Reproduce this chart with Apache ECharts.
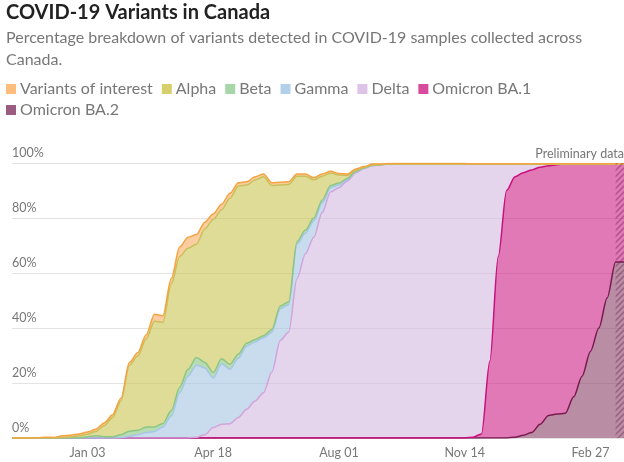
<!DOCTYPE html>
<html>
<head>
<meta charset="utf-8">
<script src="https://cdn.jsdelivr.net/npm/echarts@6/dist/echarts.min.js"></script>
<style>
html,body{margin:0;padding:0;background:#fff;}
#c{width:624px;height:462px;}
</style>
</head>
<body>
<div id="c"></div>
<script>
const categories = [
 '2020-11-01','2020-11-08','2020-11-15','2020-11-22','2020-11-29','2020-12-06','2020-12-13','2020-12-20','2020-12-27',
 '2021-01-03','2021-01-10','2021-01-17','2021-01-24','2021-01-31','2021-02-07','2021-02-14','2021-02-21','2021-02-28',
 '2021-03-07','2021-03-14','2021-03-21','2021-03-28','2021-04-04','2021-04-11','2021-04-18','2021-04-25','2021-05-02',
 '2021-05-09','2021-05-16','2021-05-23','2021-05-30','2021-06-06','2021-06-13','2021-06-20','2021-06-27','2021-07-04',
 '2021-07-11','2021-07-18','2021-07-25','2021-08-01','2021-08-08','2021-08-15','2021-08-22','2021-08-29','2021-09-05',
 '2021-09-12','2021-09-19','2021-09-26','2021-10-03','2021-10-10','2021-10-17','2021-10-24','2021-10-31','2021-11-07',
 '2021-11-14','2021-11-21','2021-11-28','2021-12-05','2021-12-12','2021-12-19','2021-12-26','2022-01-02','2022-01-09',
 '2022-01-16','2022-01-23','2022-01-30','2022-02-06','2022-02-13','2022-02-20','2022-02-27','2022-03-06','2022-03-13',
 '2022-03-20','2022-03-27'
];
const tickDates = ['2021-01-03','2021-04-18','2021-08-01','2021-11-14','2022-02-27'];
const tickLabels = ['Jan 03','Apr 18','Aug 01','Nov 14','Feb 27'];
const yTickLabels = ['0%','20%','40%','60%','80%','100%'];

const variantsOfInterest = [0,0,0,0,0.3,0.2,0.6,0.6,0.7,0.8,0.8,1.0,1.0,1.0,1.0,1.2,1.5,2.5,2.5,2.0,3.5,4.0,3.5,2.5,2.0,2.0,1.8,1.2,1.2,1.2,1.0,1.0,1.0,1.0,0.8,0.8,0.8,0.8,0.6,0.6,0.5,0.5,0.3,0.3,0.2,
 0.2,0.2,0.2,0.2,0.2,0.2,0.2,0.2,0.2,0.2,
 0.1,0.1,0.1,0.1,0.1,0.1,0.1,0.1,0.1,0.1,0.1,0.1,0.1,0.1,0.1,0.1,0.1,0.1,0.1];
const alpha = [0,0,0,0,0,0,0.2,0.4,0.8,0.9,1.6,4.0,7.0,12.3,24,27,32,38.5,36.7,46,47.5,44,41.2,48.5,55.7,54.2,60.4,61.1,57.5,58,57.8,52.3,44,42.7,23.7,19.6,13.9,8.7,4.6,2.9,1.1,0.3,0.1,0.1,
 0,0,0,0,0,0,0,0,0,0,0,0,0,0,0,0,0,0,0,0,0,0,0,0,0,0,0,0,0,0];
const beta = [0,0,0,0,0,0,0,0,0,0.5,0.8,0.5,0.5,1.0,1.9,1.6,2.0,1.6,1.3,2.0,2.0,2.5,2.8,2.0,2.0,1.8,1.8,1.5,1.0,0.8,0.7,1.0,1.0,1.0,1.0,1.1,1.0,1.0,0.8,0.7,0.4,0.2,0.2,0.1,
 0,0,0,0,0,0,0,0,0,0,0,0,0,0,0,0,0,0,0,0,0,0,0,0,0,0,0,0,0,0];
const gamma = [0,0,0,0,0,0,0,0,0,0,0,0,0,0.2,0.6,1.2,2,2.4,4,8,16.5,22.5,26.2,24.3,18,22,19.8,21.5,23,21.5,20,14.5,11.5,10,12.5,7.5,6,3.5,1.5,1,0.5,0.3,0.1,0.1,
 0,0,0,0,0,0,0,0,0,0,0,0,0,0,0,0,0,0,0,0,0,0,0,0,0,0,0,0,0,0];
const delta = [0,0,0,0,0,0,0,0,0,0,0,0,0,0,0,0,0,0,0,0,0,0,
 0.3,1.2,3.8,5,5.2,7.5,10.5,13.5,16.5,24,35.5,38.5,58,67,73,82,89.5,91,93.5,96.5,98,99,99.4,
 99.6,99.6,99.6,99.6,99.6,99.6,99.6,99.6,99.6,99.6,
 99.3,98.1,71.6,33.6,9.6,4.6,3.1,2.1,1.1,0.6,0.2,
 0,0,0,0,0,0,0,0];
const omicronBA1 = [0,0,0,0,0,0,0,0,0,0,0,0,0,0,0,0,0,0,0,0,0,0,0,0,0,0,0,0,0,0,0,0,0,0,0,0,0,0,0,0,0,0,0,0,0,0,0,0,0,0,0,0,0,0,0,
 0.3,1.5,28,66,90,94.7,95.5,95.5,93.5,90.8,90.7,90.6,84.6,77.1,68.1,59.6,48.6,35.6,35.6];
const omicronBA2 = [0,0,0,0,0,0,0,0,0,0,0,0,0,0,0,0,0,0,0,0,0,0,0,0,0,0,0,0,0,0,0,0,0,0,0,0,0,0,0,0,0,0,0,0,0,0,0,0,0,0,0,0,0,0,0,0,0,0,0,0,
 0.3,1,2,5,8.2,8.7,9,15,22.5,31.5,40,51,64,64];

const FONT = 'Lato';

function hatchCanvas(){
  const c = document.createElement('canvas');
  c.width = 6; c.height = 6;
  const g = c.getContext('2d');
  g.strokeStyle = 'rgba(110,25,75,0.4)';
  g.lineWidth = 1.5;
  g.beginPath();
  g.moveTo(0,6); g.lineTo(6,0);
  g.moveTo(-1,1); g.lineTo(1,-1);
  g.moveTo(5,7); g.lineTo(7,5);
  g.stroke();
  return c;
}

function mk(name, data, legendColor, lineColor, fillColor, extra){
  return Object.assign({
    name: name,
    type: 'line',
    stack: 'total',
    data: data,
    smooth: 0.3,
    smoothMonotone: 'x',
    showSymbol: false,
    symbol: 'none',
    itemStyle: {color: legendColor},
    lineStyle: {color: lineColor, width: 1.5},
    areaStyle: {color: fillColor, opacity: 1},
    emphasis: {disabled: true},
    animation: false
  }, extra || {});
}

const legendBase = {
  left: 6, padding: 0,
  icon: 'rect', itemWidth: 10, itemHeight: 10, itemGap: 9,
  textStyle: {fontFamily: FONT, fontSize: 16, color: '#777', padding: [0,0,0,-1]},
  selectedMode: false
};

const chart = echarts.init(document.getElementById('c'), null, {renderer: 'canvas'});
chart.setOption({
  animation: false,
  backgroundColor: '#fff',
  title: [
    {text: 'COVID-19 Variants in Canada', left: 6, top: 3, padding: 0,
     textStyle: {fontFamily: FONT, fontWeight: 'bold', fontSize: 20, color: '#222'}},
    {text: 'Percentage breakdown of variants detected in COVID-19 samples collected across\nCanada.', left: 6, top: 27, padding: 0,
     textStyle: {fontFamily: FONT, fontWeight: 'normal', fontSize: 16, color: '#777', lineHeight: 22}}
  ],
  legend: [
    Object.assign({}, legendBase, {top: 81, data: ['Variants of interest','Alpha','Beta','Gamma','Delta','Omicron BA.1']}),
    Object.assign({}, legendBase, {top: 102, data: ['Omicron BA.2']})
  ],
  grid: {left: 12, right: 0, top: 163, bottom: 24, containLabel: false},
  xAxis: {
    type: 'category', data: categories, boundaryGap: false,
    axisLine: {show: false}, axisTick: {show: false},
    splitLine: {show: false},
    axisLabel: {
      interval: function(idx, val){ return tickDates.indexOf(val) >= 0; },
      formatter: function(val){ const k = tickDates.indexOf(val); return k >= 0 ? tickLabels[k] : ''; },
      fontFamily: FONT, fontSize: 12.5, color: '#777', margin: 8
    }
  },
  yAxis: {
    type: 'value', min: 0, max: 100, interval: 20,
    axisLine: {show: false}, axisTick: {show: false},
    splitLine: {lineStyle: {color: '#e3e3e3', width: 1}},
    axisLabel: {
      inside: true, margin: 0, verticalAlign: 'bottom', padding: [0,0,4,0],
      formatter: function(v){ return yTickLabels[Math.round(v/20)]; },
      fontFamily: FONT, fontSize: 12.5, color: '#777'
    }
  },
  series: [
    mk('Omicron BA.2', omicronBA2, '#9c5b81', '#7a1a50', 'rgba(138,65,102,0.6)'),
    mk('Omicron BA.1', omicronBA1, '#d84a9b', '#c8107e', 'rgba(204,31,133,0.6)'),
    mk('Delta', delta, '#ddc4e6', '#d0a5db', 'rgba(212,185,223,0.6)'),
    mk('Gamma', gamma, '#b3d0eb', '#a5c6e6', 'rgba(163,197,227,0.6)'),
    mk('Beta', beta, '#a7d6a8', '#8dc683', 'rgba(137,197,127,0.6)'),
    mk('Alpha', alpha, '#d6cf6b', '#c9c05a', 'rgba(202,197,83,0.6)'),
    mk('Variants of interest', variantsOfInterest, '#fdbd7d', '#f5a340', 'rgba(250,172,97,0.6)', {
      markArea: {
        silent: true, z: 10,
        itemStyle: {color: {image: hatchCanvas(), repeat: 'repeat'}},
        label: {show: true, position: ['100%', -3], align: 'right', verticalAlign: 'bottom',
                fontFamily: FONT, fontSize: 12.5, color: '#777', formatter: 'Preliminary data'},
        data: [[{xAxis: categories[72]}, {xAxis: categories[73]}]]
      }
    })
  ]
});
</script>
</body>
</html>
